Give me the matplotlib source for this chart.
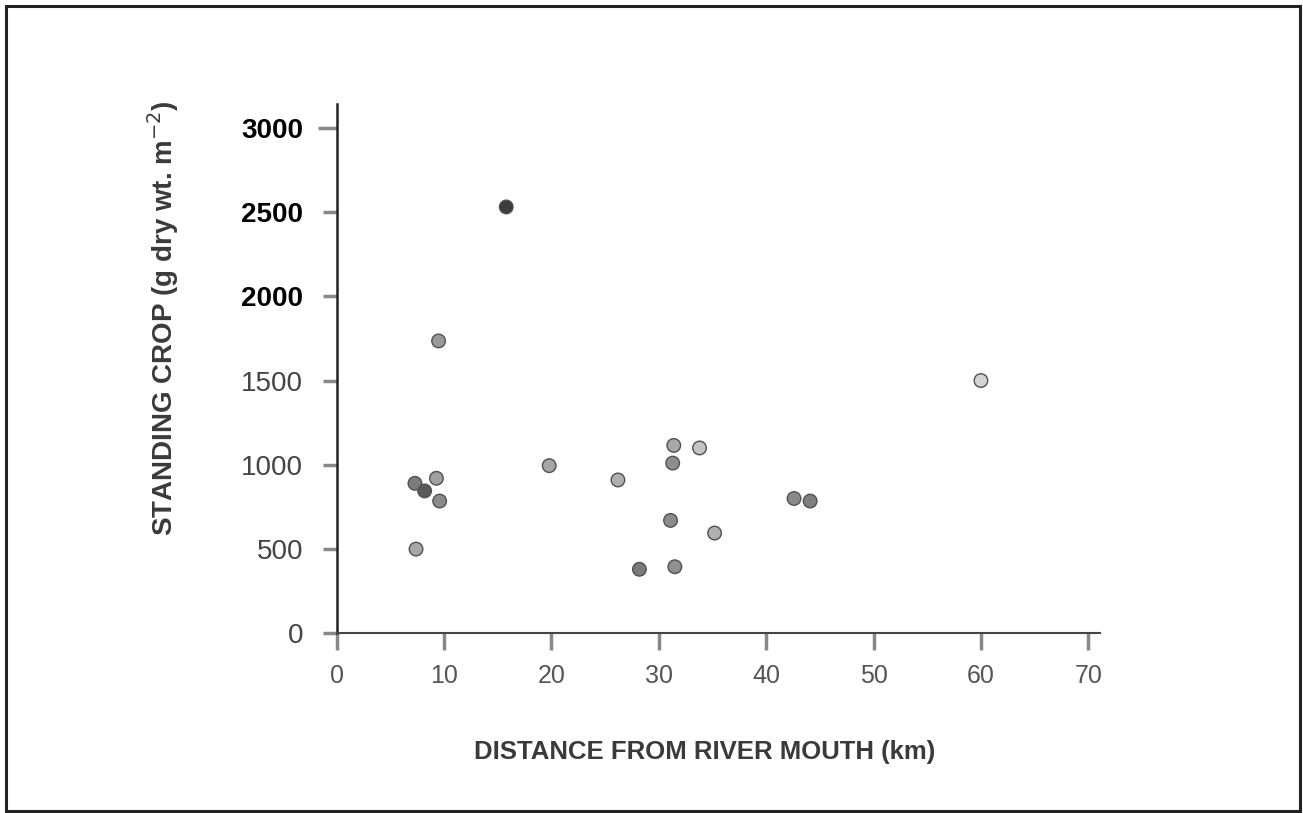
import matplotlib
matplotlib.use("Agg")
import matplotlib.pyplot as plt
from matplotlib.patches import Rectangle

plt.rcParams['font.family'] = ['Liberation Sans', 'DejaVu Sans']

# Standing crop of marsh vegetation against distance upstream
distance_km = [15.8, 9.5, 7.3, 8.2, 9.3, 9.6, 7.4, 19.8, 26.2, 31.4,
               33.8, 31.3, 31.1, 35.2, 28.2, 31.5, 42.6, 44.1, 60.0]
standing_crop = [2530, 1735, 890, 845, 920, 785, 500, 995, 910, 1115,
                 1100, 1010, 670, 595, 380, 395, 800, 785, 1500]

x_ticks = [0, 10, 20, 30, 40, 50, 60, 70]
y_ticks = [0, 500, 1000, 1500, 2000, 2500, 3000]

# grey shade of each dot (darker = heavier print)
shades = ['#3c3c3c', '#9a9a9a', '#7c7c7c', '#5a5a5a', '#a0a0a0', '#8a8a8a',
          '#a8a8a8', '#a6a6a6', '#b0b0b0', '#a8a8a8', '#c4c4c4', '#8e8e8e',
          '#8c8c8c', '#b0b0b0', '#7a7a7a', '#909090', '#8a8a8a', '#7e7e7e',
          '#d4d4d4']

fig = plt.figure(figsize=(13.03, 8.13), dpi=100)
ax = fig.add_axes([0.2583, 0.2210, 0.5860, 0.6511])

ax.scatter(distance_km, standing_crop, s=95, c=shades,
           edgecolors='#505050', linewidths=1.0, zorder=3)

ax.set_xlim(0, 71.1)
ax.set_ylim(0, 3141)
ax.set_xticks(x_ticks)
ax.set_yticks(y_ticks)
ax.set_xticklabels([str(v) for v in x_ticks], fontsize=18, color='#555555')
ax.set_yticklabels([str(v) for v in y_ticks], fontsize=20, color='#444444')
for lbl, v in zip(ax.get_yticklabels(), y_ticks):
    if v >= 2000:
        lbl.set_color('black')
        lbl.set_fontweight('bold')

ax.tick_params(axis='y', direction='out', length=10, width=2.5,
               color='#888888', pad=14)
ax.tick_params(axis='x', direction='out', length=12, width=2.5,
               color='#888888', pad=10)
ax.yaxis.get_major_ticks()[-1].tick1line.set_color('black')
ax.yaxis.get_major_ticks()[-1].tick1line.set_markersize(14)

for side in ['top', 'right']:
    ax.spines[side].set_visible(False)
ax.spines['left'].set_linewidth(1.8)
ax.spines['left'].set_color('#222222')
ax.spines['bottom'].set_linewidth(1.5)
ax.spines['bottom'].set_color('#444444')

fig.text(163 / 1303, 1 - 318 / 813, 'STANDING CROP (g dry wt. m$^{-2}$)',
         rotation=90, ha='center', va='center', fontsize=20,
         fontweight='bold', color='#3a3a3a')
fig.text(705 / 1303, 1 - 752 / 813, 'DISTANCE FROM RIVER MOUTH (km)',
         ha='center', va='center', fontsize=18.5, fontweight='bold',
         color='#3a3a3a')

# frame around the figure
fig.patches.append(Rectangle((6 / 1303, 2 / 813), 1294 / 1303, 805 / 813,
                             transform=fig.transFigure, fill=False,
                             edgecolor='#222222', linewidth=2.2))

fig.savefig('out.png', dpi=100)
